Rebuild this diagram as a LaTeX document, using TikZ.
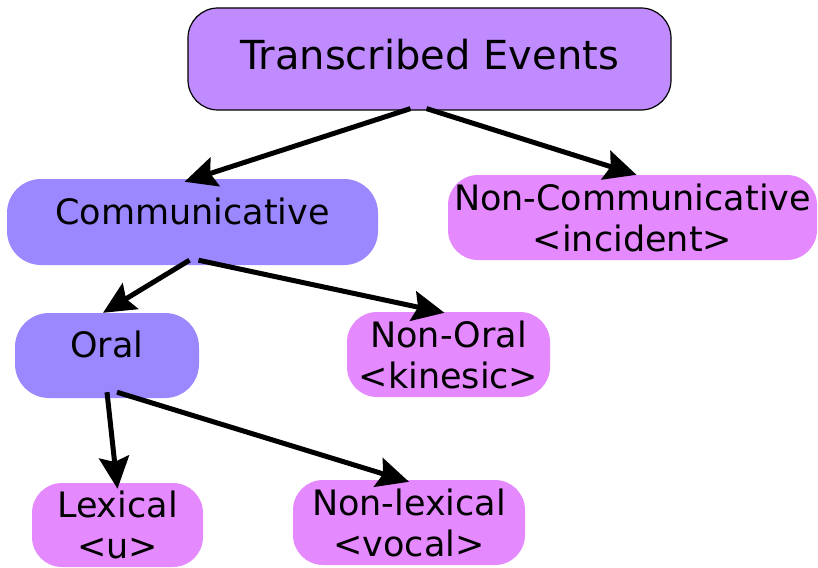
\documentclass[tikz,border=0pt]{standalone}
\usepackage{fontspec}
\setmainfont{DejaVu Sans}
\usetikzlibrary{arrows.meta}
\definecolor{topfill}{RGB}{192,139,255}
\definecolor{commfill}{RGB}{155,136,255}
\definecolor{leaffill}{RGB}{229,137,255}
\begin{document}
\begin{tikzpicture}[
      x=1pt,y=-1pt,
      box/.style={rounded corners=34pt,inner sep=0pt,align=center,
        font=\fontsize{35}{41}\selectfont},
      inner/.style={box,fill=commfill,text depth=22pt},
      leaf/.style={box,fill=leaffill,rounded corners=30pt},
      arr/.style={line width=5pt,-{Stealth[length=32pt,width=30pt,inset=5pt]}}
    ]
    \useasboundingbox (0,0) rectangle (818,567);
    \node [box,fill=topfill,draw=black,line width=1.2pt,rounded corners=30pt,
        minimum width=483pt,minimum height=102pt,text depth=10pt,
        font=\fontsize{40}{48}\selectfont] (te) at (429.5,59) {Transcribed Events};
    \node [inner,minimum width=371pt,minimum height=86pt] (comm) at (192.5,222) {Communicative};
    \node [leaf,minimum width=369pt,minimum height=85pt] (ncomm) at (632.5,217.5) {Non-Communicative\\<incident>};
    \node [inner,minimum width=184pt,minimum height=85pt] (oral) at (107,355.5) {Oral};
    \node [leaf,minimum width=203pt,minimum height=85pt] (noral) at (448.5,354.5) {Non-Oral\\<kinesic>};
    \node [leaf,minimum width=171pt,minimum height=84pt] (lex) at (117.5,525) {Lexical\\<u>};
    \node [leaf,minimum width=232pt,minimum height=85pt] (nlex) at (409,522.5) {Non-lexical\\<vocal>};
    % Pfeile von oben nach unten
    \draw [arr] ([xshift=-19pt,yshift=2pt]te.south) -- ([xshift=-8pt,yshift=-3pt]comm.north);
    \draw [arr] ([xshift=-3pt,yshift=2pt]te.south) -- ([xshift=4pt]ncomm.north);
    \draw [arr] ([xshift=-3pt,yshift=5pt]comm.south) -- ([xshift=-4pt]oral.north);
    \draw [arr] ([xshift=6pt,yshift=5pt]comm.south) -- ([xshift=-4pt,yshift=-1pt]noral.north);
    \draw [arr] ([xshift=0pt,yshift=6pt]oral.south) -- ([yshift=-6pt]lex.north);
    \draw [arr] ([xshift=10pt,yshift=6pt]oral.south) -- ([yshift=-2pt]nlex.north);
\end{tikzpicture}
\end{document}
